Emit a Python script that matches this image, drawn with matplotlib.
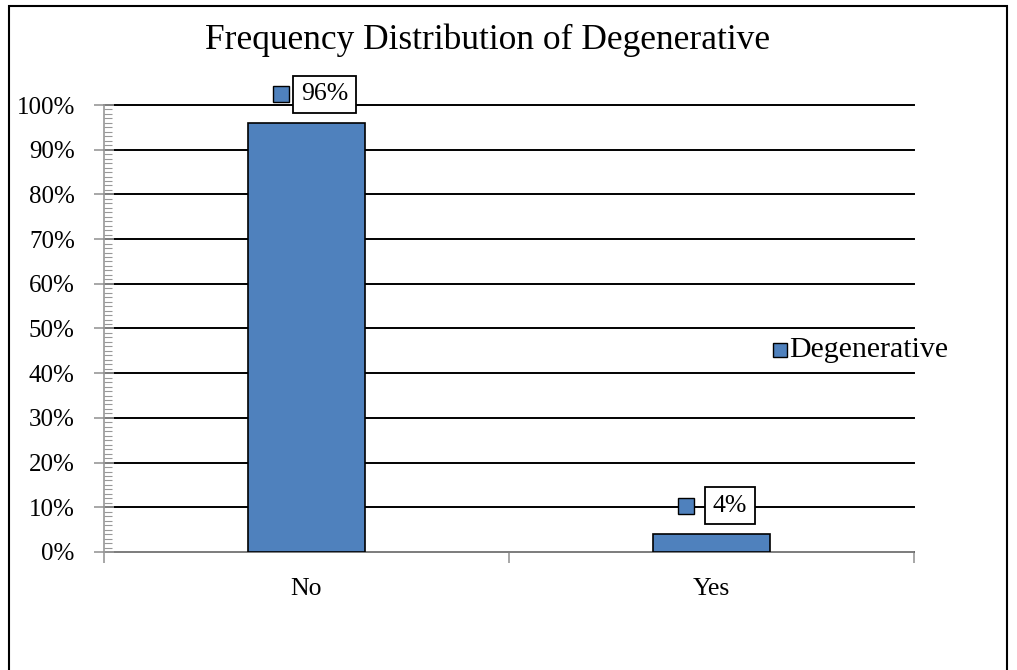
import matplotlib
matplotlib.use("Agg")
import matplotlib.pyplot as plt
from matplotlib.patches import Rectangle
from matplotlib.ticker import MultipleLocator, PercentFormatter

categories = ["No", "Yes"]
values = [0.96, 0.04]
labels = ["96%", "4%"]
series_name = "Degenerative"
title = "Frequency Distribution of Degenerative"

plt.rcParams['font.family'] = ['Liberation Serif', 'DejaVu Serif']

W, H = 1017, 670
fig = plt.figure(figsize=(W / 100, H / 100), dpi=100)
ax = fig.add_axes([104 / W, 1 - 552 / H, (914 - 104) / W, (552 - 105) / H])

blue = "#4F81BD"
x = range(len(categories))
ax.bar(x, values, width=0.29, color=blue, edgecolor="black", linewidth=1.2, zorder=3)

ax.set_xlim(-0.5, 1.5)
ax.set_ylim(0, 1.0)
ax.yaxis.set_major_locator(MultipleLocator(0.1))
ax.yaxis.set_minor_locator(MultipleLocator(0.01))
ax.yaxis.set_major_formatter(PercentFormatter(1.0, decimals=0))
ax.set_xticks([-0.5, 0.5, 1.5], minor=False)
ax.set_xticklabels([])
ax.set_xticks(list(x), minor=True)
ax.set_xticklabels(categories, minor=True)

for s in ["top", "right"]:
    ax.spines[s].set_visible(False)
for s in ["left", "bottom"]:
    ax.spines[s].set_color("#989898")
    ax.spines[s].set_linewidth(1.2)

ax.grid(axis="y", color="black", linewidth=1.4, zorder=1)
ax.set_axisbelow(True)
for gl in ax.get_ygridlines():
    gl.set_clip_on(False)
ax.get_ygridlines()[0].set_visible(False)

ax.tick_params(axis="y", which="major", direction="inout", length=14, width=1.2,
               color="#989898", labelsize=18, pad=14)
ax.tick_params(axis="y", which="minor", direction="in", length=6, width=0.8,
               color="#989898")
ax.tick_params(axis="x", which="major", direction="out", length=8, width=1.2,
               color="#989898")
ax.tick_params(axis="x", which="minor", length=0, labelsize=18.5, pad=19)

for xi, v, lab in zip(x, values, labels):
    ax.text(xi + 0.045, v + 0.064, lab, ha="center", va="center", fontsize=18.5,
            bbox=dict(boxstyle="square,pad=0.3", facecolor="white", edgecolor="black", linewidth=1.3),
            zorder=5, clip_on=False)
    ax.plot([xi - 0.062], [v + 0.064], marker="s", markersize=11, markerfacecolor=blue,
            markeredgecolor="black", markeredgewidth=1.0, zorder=5, clip_on=False)

# legend
fig.patches.append(Rectangle((773 / W, 1 - 357 / H), 14 / W, 14 / H, transform=fig.transFigure,
                             facecolor=blue, edgecolor="black", linewidth=1.0))
fig.text(789 / W, 1 - 350 / H, series_name, ha="left", va="center", fontsize=21.5)

fig.text(488 / W, 1 - 40 / H, title, ha="center", va="center", fontsize=25.5)

# outer border
fig.patches.append(Rectangle((9 / W, -0.1), (1007 - 9) / W, 1.1 - 6 / H, transform=fig.transFigure,
                             facecolor="none", edgecolor="black", linewidth=1.5))

fig.savefig("out.png", dpi=100)
